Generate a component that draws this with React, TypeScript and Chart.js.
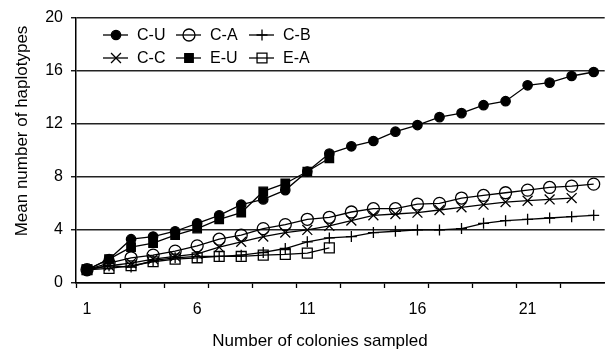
import React, { useEffect, useRef } from 'react';
import { Chart, registerables } from 'chart.js';
import { drawPoint } from 'chart.js/helpers';

Chart.register(...registerables);

const categories = ['1','2','3','4','5','6','7','8','9','10','11','12','13','14','15','16','17','18','19','20','21','22','23','24'];
const xTickLabels = ['1', '6', '11', '16', '21'];
const yTickValues = [0, 4, 8, 12, 16, 20];

const cU = [1, 1.8, 3.3, 3.5, 3.9, 4.5, 5.1, 5.9, 6.3, 7.0, 8.4, 9.75, 10.3, 10.7, 11.4, 11.9, 12.5, 12.8, 13.4, 13.7, 14.9, 15.1, 15.6, 15.9];
const cA = [1, 1.5, 1.9, 2.1, 2.4, 2.8, 3.3, 3.6, 4.1, 4.4, 4.8, 4.95, 5.35, 5.6, 5.6, 5.95, 6.0, 6.4, 6.6, 6.8, 7.0, 7.2, 7.3, 7.45];
const cB = [1, 1.3, 1.2, 1.7, 1.9, 2.0, 2.0, 2.1, 2.3, 2.6, 3.1, 3.4, 3.5, 3.8, 3.9, 4.0, 4.0, 4.1, 4.5, 4.7, 4.8, 4.9, 5.0, 5.1];
const cC = [1, 1.3, 1.5, 1.8, 2.0, 2.2, 2.7, 3.1, 3.5, 3.8, 4.0, 4.3, 4.7, 5.1, 5.2, 5.3, 5.5, 5.7, 5.9, 6.1, 6.2, 6.3, 6.4];
const eU = [1, 1.8, 2.7, 3.0, 3.6, 4.1, 4.8, 5.3, 6.9, 7.5, 8.4, 9.4];
const eA = [1, 1.1, 1.3, 1.6, 1.8, 1.9, 2.0, 2.0, 2.1, 2.15, 2.25, 2.65];

const seriesNames = ['C-U', 'C-A', 'C-B', 'C-C', 'E-U', 'E-A'];
const seriesValues = [cU, cA, cB, cC, eU, eA];
const seriesStyles = ['circle', 'circle', 'cross', 'crossRot', 'rect', 'rect'];
const seriesRadius = [4.7, 6, 5.5, 7, 6, 7];
const seriesFilled = [true, false, false, false, true, false];

const xTitle = 'Number of colonies sampled';
const yTitle = 'Mean number of haplotypes';

const FONT = "'Liberation Sans', Arial, sans-serif";

const legendPlugin = {
  id: 'lineLegend',
  afterDraw(chart: any) {
    const ctx = chart.ctx;
    ctx.save();
    chart.data.datasets.forEach((ds: any, i: number) => {
      const col = i % 3;
      const row = Math.floor(i / 3);
      const x0 = 103 + col * 73;
      const y = 35 + row * 23;
      ctx.strokeStyle = '#000';
      ctx.fillStyle = ds.pointBackgroundColor;
      ctx.lineWidth = 1.3;
      ctx.beginPath();
      ctx.moveTo(x0, y);
      ctx.lineTo(x0 + 25, y);
      ctx.stroke();
      drawPoint(ctx, { pointStyle: ds.pointStyle, radius: ds.pointRadius, borderWidth: 1.3, rotation: 0 }, x0 + 13, y);
      ctx.fillStyle = '#000';
      ctx.font = `16px ${FONT}`;
      ctx.textBaseline = 'middle';
      ctx.textAlign = 'left';
      ctx.fillText(ds.label, x0 + 34, y + 1);
    });
    ctx.restore();
  },
};

const titlePlugin = {
  id: 'axisTitles',
  afterDraw(chart: any) {
    const ctx = chart.ctx;
    ctx.save();
    ctx.fillStyle = '#000';
    ctx.font = `17px ${FONT}`;
    ctx.textAlign = 'center';
    ctx.textBaseline = 'middle';
    ctx.fillText(xTitle, 320, 341);
    ctx.translate(22, 131);
    ctx.rotate(-Math.PI / 2);
    ctx.fillText(yTitle, 0, 0);
    ctx.restore();
  },
};

export default function App() {
  const ref = useRef<HTMLCanvasElement>(null);
  useEffect(() => {
    document.body.style.margin = '0';
    const canvas = ref.current!;
    const chart = new Chart(canvas, {
      type: 'line',
      data: {
        labels: categories,
        datasets: seriesNames.map((name, i) => ({
          label: name,
          data: seriesValues[i],
          borderColor: '#000',
          borderWidth: 1.3,
          tension: 0,
          fill: false,
          pointStyle: seriesStyles[i] as any,
          pointRadius: seriesRadius[i],
          pointBorderWidth: 1.3,
          pointBorderColor: '#000',
          pointBackgroundColor: seriesFilled[i] ? '#000' : 'rgba(0,0,0,0)',
        })),
      },
      options: {
        animation: false,
        responsive: false,
        events: [],
        layout: { padding: { top: 16, left: 0, right: 0, bottom: 0 } },
        plugins: { legend: { display: false }, tooltip: { enabled: false } },
        scales: {
          x: {
            type: 'category',
            offset: true,
            grid: {
              offset: true,
              drawOnChartArea: false,
              drawTicks: true,
              tickLength: 5,
              tickWidth: 1.3,
              tickColor: (c: any) => (c.index % 2 === 0 ? '#000' : 'rgba(0,0,0,0)'),
            },
            border: { color: '#000', width: 1.5 },
            ticks: {
              autoSkip: false,
              maxRotation: 0,
              padding: 12,
              color: '#000',
              font: { family: FONT, size: 16 },
              callback: (v: any, i: number) => (xTickLabels.includes(categories[i]) ? categories[i] : ''),
            },
            afterFit: (s: any) => { s.height = 67; },
          },
          y: {
            min: 0,
            max: 20,
            afterBuildTicks: (s: any) => { s.ticks = yTickValues.map((v) => ({ value: v })); },
            grid: {
              color: '#222',
              lineWidth: 1.5,
              drawTicks: true,
              tickLength: 5,
              tickColor: '#000',
              tickWidth: 1.3,
            },
            border: { color: '#000', width: 1.5 },
            ticks: {
              padding: 8,
              color: '#000',
              font: { family: FONT, size: 16 },
            },
            afterFit: (s: any) => { s.width = 76; },
          },
        },
      },
      plugins: [legendPlugin, titlePlugin],
    });
    return () => chart.destroy();
  }, []);
  return (
    <div style={{ width: 613, height: 350 }}>
      <canvas ref={ref} width={613} height={350} style={{ display: 'block' }} />
    </div>
  );
}
